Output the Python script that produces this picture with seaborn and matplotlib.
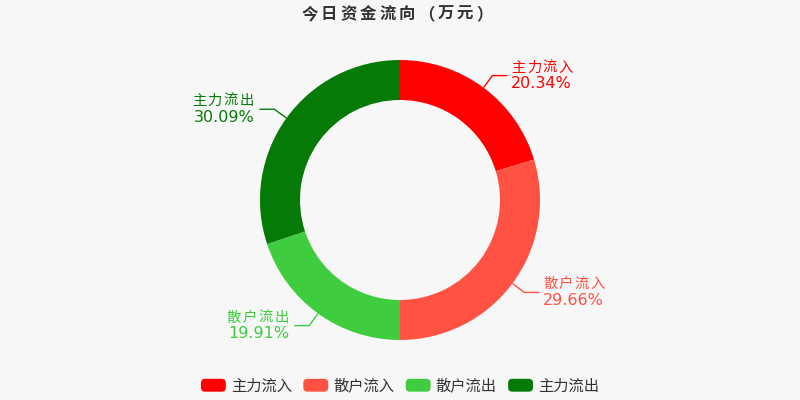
import numpy as np
import matplotlib
matplotlib.use("Agg")
import matplotlib.pyplot as plt
import seaborn as sns
from matplotlib.patches import FancyBboxPatch
from matplotlib.legend_handler import HandlerPatch

# data
names = ['主力流入', '散户流入', '散户流出', '主力流出']
shares = [20.34, 29.66, 19.91, 30.09]
colors = ['#ff0000', '#ff5243', '#3fcc3f', '#067a06']
title = '今日资金流向（万元）'

sns.set_theme(style='white')
plt.rcParams['font.family'] = ['DejaVu Sans', 'Noto Sans CJK SC']
bg = '#f7f7f7'
cjk = ['Noto Sans CJK SC', 'DejaVu Sans']


def spaced_text(ax, x, y, s, pitch, ha='left', **kw):
    # draw CJK text with letter spacing, one char per cell
    w = pitch * len(s)
    x0 = {'left': x, 'right': x - w, 'center': x - w / 2}[ha]
    for i, ch in enumerate(s):
        ax.text(x0 + pitch * (i + 0.5), y, ch, ha='center', va='center', family=cjk, **kw)


class RoundHandler(HandlerPatch):
    def create_artists(self, legend, orig_handle, xdescent, ydescent, width, height,
                       fontsize, trans):
        p = FancyBboxPatch((-xdescent, -ydescent), width, height,
                           boxstyle='round,pad=0,rounding_size=3',
                           facecolor=orig_handle.get_facecolor(), edgecolor='none',
                           transform=trans)
        return [p]


fig = plt.figure(figsize=(8, 4), dpi=100, facecolor=bg)
ax = fig.add_axes([0, 0, 1, 1])
ax.set_facecolor(bg)

cx, cy, R = 400, 200, 140
wedges, _ = ax.pie(shares, colors=colors, startangle=90, counterclock=False,
                   radius=R, center=(cx, cy), wedgeprops=dict(width=40, linewidth=0),
                   frame=True)
ax.set_xlim(0, 800)
ax.set_ylim(0, 400)
ax.set_aspect('equal')
ax.axis('off')

# leader lines + labels
for w, name, s, c in zip(wedges, names, shares, colors):
    mid = np.deg2rad((w.theta1 + w.theta2) / 2)
    x0, y0 = cx + R * np.cos(mid), cy + R * np.sin(mid)
    x1, y1 = cx + (R + 15) * np.cos(mid), cy + (R + 15) * np.sin(mid)
    side = 1 if np.cos(mid) >= 0 else -1
    x2 = x1 + side * 15
    ax.plot([x0, x1, x2], [y0, y1, y1], color=c, lw=1, solid_capstyle='butt')
    ha = 'left' if side > 0 else 'right'
    gap = 3 if side > 0 else 5
    spaced_text(ax, x2 + side * gap, y1 + 8, name, 15.8, ha=ha, color=c, fontsize=10.3)
    ax.text(x2 + side * gap, y1 - 8, '%.2f%%' % s, color=c, fontsize=11.5, ha=ha, va='center')

spaced_text(ax, 397, 386, title, 19.4, ha='center', fontsize=11.8,
            fontweight='bold', color='#333333')

leg = fig.legend(wedges, names, loc='center', bbox_to_anchor=(0.5, 1 - 386 / 400),
                 ncol=4, frameon=False, handlelength=1.63, handleheight=0.92,
                 handletextpad=0.33, columnspacing=0.75,
                 handler_map={matplotlib.patches.Wedge: RoundHandler()},
                 prop={'family': 'Noto Sans CJK SC', 'size': 11})
for t in leg.get_texts():
    t.set_color('#333333')

fig.savefig('out.png', dpi=100, facecolor=bg)
